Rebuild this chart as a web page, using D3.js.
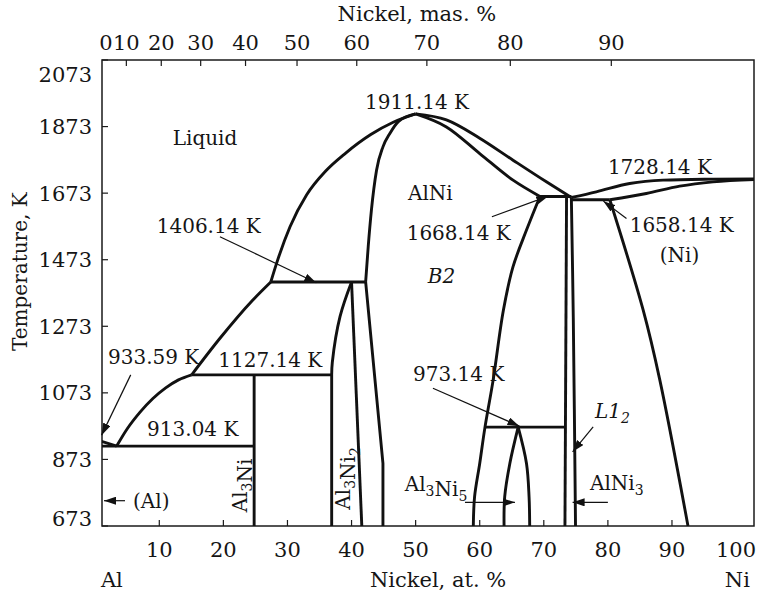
<!DOCTYPE html>
<html>
<head>
<meta charset="utf-8">
<script src="https://cdn.jsdelivr.net/npm/d3@7"></script>
<style>
  body { margin: 0; background: #fff; }
  text { font-family: "DejaVu Serif", serif; fill: #151515; }
</style>
</head>
<body>
<div id="chart"></div>
<script>
// axis limits (at. % Ni and K) read from the frame
const xMin = 1.06, xMax = 102.8, tMin = 673, tMax = 2073;

// tick labels
const atTicks = [10, 20, 30, 40, 50, 60, 70, 80, 90, 100];
const massTicks = [0, 10, 20, 30, 40, 50, 60, 70, 80, 90];
const tempTicks = [673, 873, 1073, 1273, 1473, 1673, 1873, 2073];

// atomic masses, for the mas. % scale on top
const massAl = 26.98, massNi = 58.69;

// phase boundaries, [at. % Ni, K]
const liquidusAl = [[0, 933.59], [3.35, 913.04]];
const liquidusAl3Ni = [[3.35, 913.04], [5, 965], [7, 1015], [9, 1056], [11, 1088], [13, 1112], [15.05, 1127.14]];
const liquidusAl3Ni2 = [[15.05, 1127.14], [19.47, 1237], [24.6, 1352], [27.4, 1406.14]];
const liquidusLeft = [[27.4, 1406.14], [28.3, 1462], [30.4, 1572], [33.0, 1668], [36.0, 1740], [39.0, 1792],
  [43.0, 1849], [46.5, 1886], [50, 1911.14]];
const liquidusRight = [[50, 1911.14], [54.8, 1893], [60.0, 1838], [65.2, 1772], [70.4, 1707], [74.3, 1660]];
const liquidusNi = [[74.3, 1660], [78.2, 1677], [83.4, 1702], [88.6, 1712], [96.4, 1715], [102.8, 1716]];
const solidusNi = [[80.3, 1653], [86.0, 1672], [91.2, 1694], [96.4, 1707], [102.8, 1714]];
const solidusB2Left = [[42.2, 1406.14], [42.6, 1512], [43.1, 1622], [43.9, 1742], [44.9, 1812],
  [46.0, 1853], [47.3, 1888], [50, 1911.14]];
const solidusB2Right = [[50, 1911.14], [54.8, 1872], [60.0, 1792], [65.2, 1712], [69.4, 1663]];
const b2Left = [[44.9, 673], [44.9, 861], [42.2, 1406.14]];
const b2Right = [[69.4, 1663], [67.3, 1562], [65.2, 1452], [63.7, 1322], [62.1, 1112],
  [60.8, 967], [60.0, 861], [59.2, 761], [59.0, 673]];
const l12Left = [[73.55, 1663], [73.3, 673]];
const l12Right = [[74.3, 1660], [74.6, 1300], [74.95, 673]];
const solvusNi = [[80.3, 1653], [85.5, 1322], [88.1, 1112], [92.5, 673]];
const al3NiLine = [[24.8, 673], [24.8, 1127.14]];
const al3Ni2Left = [[40.0, 1406.14], [38.2, 1302], [37.0, 1165], [36.9, 1127.14], [36.9, 673]];
const al3Ni2Right = [[40.0, 1406.14], [41.6, 673]];
const al3Ni5Left = [[66.0, 970], [64.7, 861], [63.9, 761], [63.8, 673]];
const al3Ni5Right = [[66.0, 970], [67.3, 861], [67.7, 761], [67.8, 673]];

// isotherms, [from at. %, to at. %, K]
const isotherms = [[0, 24.8, 913.04], [15.05, 36.9, 1127.14], [27.4, 42.2, 1406.14],
  [69.4, 74.3, 1663], [74.3, 80.3, 1653], [60.8, 73.3, 970]];

// labels, [text, at. %, K]
const labels = [
  ["Liquid", 12.1, 1817], ["1911.14 K", 42.1, 1926], ["AlNi", 48.8, 1652], ["1668.14 K", 48.6, 1532],
  ["*B2", 51.9, 1403], ["1728.14 K", 80.0, 1730], ["1658.14 K", 83.4, 1556], ["(Ni)", 88.1, 1466],
  ["1406.14 K", 9.6, 1553], ["1127.14 K", 19.2, 1150], ["933.59 K", 2.0, 1160], ["913.04 K", 8.1, 943],
  ["(Al)", 5.9, 727], ["973.14 K", 49.6, 1108], ["*L1_2", 78.0, 997], ["Al_3Ni_5", 48.3, 778],
  ["AlNi_3", 77.2, 781]
];
// vertical labels, [text, at. %, K]
const vlabels = [["Al_3Ni", 23.7, 795], ["Al_3Ni_2", 39.7, 816]];

// arrows, [from at. %, from K, to at. %, to K]
const arrows = [
  [19.46, 1542, 34.5, 1404], [5.54, 1127, 1.0, 946], [61.9, 1602, 70.7, 1664],
  [82.9, 1597, 79.3, 1649], [52.7, 1087, 66.2, 973], [77.7, 971, 74.5, 896],
  [57.7, 744, 65.5, 744], [80.0, 744, 74.5, 744], [4.65, 749, 1.37, 749]
];

var margin = {top: 60, right: 3, bottom: 68, left: 102},
    width = 757 - margin.left - margin.right,
    height = 594 - margin.top - margin.bottom;

var svg = d3.select("#chart")
  .append("svg")
    .attr("width", 757)
    .attr("height", 594)
  .append("g")
    .attr("transform", "translate(" + margin.left + "," + margin.top + ")");

var x = d3.scaleLinear().domain([xMin, xMax]).range([0, width]);
var y = d3.scaleLinear().domain([tMin, tMax]).range([height, 0]);

function massToAt(w) {
  var ni = w / massNi, al = (100 - w) / massAl;
  return 100 * ni / (ni + al);
}

svg.append("defs").append("clipPath").attr("id", "plot")
  .append("rect").attr("width", width).attr("height", height);

var marker = svg.select("defs").append("marker")
  .attr("id", "head")
  .attr("markerUnits", "userSpaceOnUse")
  .attr("markerWidth", 13).attr("markerHeight", 8)
  .attr("refX", 12).attr("refY", 4)
  .attr("orient", "auto");
marker.append("path").attr("d", "M0,0 L12,4 L0,8 Z").attr("fill", "#111");

// frame
svg.append("rect")
  .attr("width", width).attr("height", height)
  .attr("fill", "none").attr("stroke", "#1a1a1a").attr("stroke-width", 1.5);

// ticks, inward
svg.selectAll(".xtick").data(atTicks.filter(d => d < xMax - 5)).enter().append("line")
  .attr("x1", d => x(d)).attr("x2", d => x(d))
  .attr("y1", height).attr("y2", height - 6)
  .attr("stroke", "#1a1a1a").attr("stroke-width", 1.2);
svg.selectAll(".mtick").data(massTicks.filter(d => massToAt(d) > xMin)).enter().append("line")
  .attr("x1", d => x(massToAt(d))).attr("x2", d => x(massToAt(d)))
  .attr("y1", 0).attr("y2", 6)
  .attr("stroke", "#1a1a1a").attr("stroke-width", 1.2);
svg.selectAll(".ytick").data(tempTicks).enter().append("line")
  .attr("x1", 0).attr("x2", 6)
  .attr("y1", d => y(d)).attr("y2", d => y(d))
  .attr("stroke", "#1a1a1a").attr("stroke-width", 1.2);

// tick labels
svg.selectAll(".xlab").data(atTicks).enter().append("text")
  .attr("x", d => x(d)).attr("y", height + 31)
  .attr("text-anchor", "middle").attr("font-size", "21px")
  .text(d => d);
svg.selectAll(".mlab").data(massTicks).enter().append("text")
  .attr("x", d => Math.max(x(massToAt(d)), 4)).attr("y", -10)
  .attr("text-anchor", "middle").attr("font-size", "21px")
  .text(d => d);
svg.selectAll(".ylab").data(tempTicks).enter().append("text")
  .attr("x", -10).attr("y", d => y(d))
  .attr("dy", d => d === tMax ? "1.05em" : d === tMin ? "-0.02em" : "0.36em")
  .attr("text-anchor", "end").attr("font-size", "21px")
  .text(d => d);

// axis titles
svg.append("text").attr("x", x(53.5)).attr("y", height + 61)
  .attr("text-anchor", "middle").attr("font-size", "21px").text("Nickel, at. %");
svg.append("text").attr("x", x(2.6)).attr("y", height + 61)
  .attr("text-anchor", "middle").attr("font-size", "21px").text("Al");
svg.append("text").attr("x", x(100.2)).attr("y", height + 61)
  .attr("text-anchor", "middle").attr("font-size", "21px").text("Ni");
svg.append("text").attr("x", x(50.2)).attr("y", -39)
  .attr("text-anchor", "middle").attr("font-size", "21px").text("Nickel, mas. %");
svg.append("text")
  .attr("transform", "translate(" + (27 - margin.left) + "," + y(1437) + ") rotate(-90)")
  .attr("text-anchor", "middle").attr("font-size", "20px").text("Temperature, K");

// phase boundaries
var monotone = d3.line().x(d => x(d[0])).y(d => y(d[1])).curve(d3.curveMonotoneX);
var smooth = d3.line().x(d => x(d[0])).y(d => y(d[1])).curve(d3.curveCatmullRom.alpha(0.5));
var straight = d3.line().x(d => x(d[0])).y(d => y(d[1]));

var monoCurves = [liquidusAl3Ni, liquidusAl3Ni2, liquidusLeft, liquidusRight, liquidusNi, solidusNi,
  solidusB2Left, solidusB2Right];
var curves = [b2Right, l12Right, solvusNi, al3Ni5Left, al3Ni5Right];
var lines = [liquidusAl, b2Left, l12Left, al3NiLine, al3Ni2Right];

var plot = svg.append("g").attr("clip-path", "url(#plot)")
  .attr("fill", "none").attr("stroke", "#111").attr("stroke-width", 2.9)
  .attr("stroke-linejoin", "round");

plot.selectAll(".mono").data(monoCurves).enter().append("path").attr("d", monotone);
plot.selectAll(".curve").data(curves).enter().append("path").attr("d", smooth);
plot.selectAll(".seg").data(lines).enter().append("path").attr("d", straight);
plot.append("path").attr("d", smooth(al3Ni2Left.slice(0, 4)) + straight(al3Ni2Left.slice(3)).replace("M", "L"));
plot.selectAll(".iso").data(isotherms).enter().append("line")
  .attr("x1", d => x(d[0])).attr("x2", d => x(d[1]))
  .attr("y1", d => y(d[2])).attr("y2", d => y(d[2]));

// arrows
svg.selectAll(".arrow").data(arrows).enter().append("line")
  .attr("x1", d => x(d[0])).attr("y1", d => y(d[1]))
  .attr("x2", d => x(d[2])).attr("y2", d => y(d[3]))
  .attr("stroke", "#111").attr("stroke-width", 1.2)
  .attr("marker-end", "url(#head)");

// text with subscripts: "_3" lowers the digit, a leading "*" makes it italic
function richText(sel, s) {
  if (s[0] === "*") { sel.attr("font-style", "italic"); s = s.slice(1); }
  s.split(/(_\d)/).filter(p => p).forEach(p => {
    if (p[0] === "_") {
      sel.append("tspan").attr("font-size", "14px").attr("dy", 5).text(p[1]);
      sel.append("tspan").attr("dy", -5).text("");
    } else {
      sel.append("tspan").text(p);
    }
  });
}

svg.selectAll(".label").data(labels).enter().append("text")
  .attr("x", d => x(d[1])).attr("y", d => y(d[2]))
  .attr("font-size", "20px")
  .each(function(d) { richText(d3.select(this), d[0]); });

svg.selectAll(".vlabel").data(vlabels).enter().append("text")
  .attr("transform", d => "translate(" + x(d[1]) + "," + y(d[2]) + ") rotate(-90)")
  .attr("text-anchor", "middle")
  .attr("font-size", "20px")
  .each(function(d) { richText(d3.select(this), d[0]); });
</script>
</body>
</html>
